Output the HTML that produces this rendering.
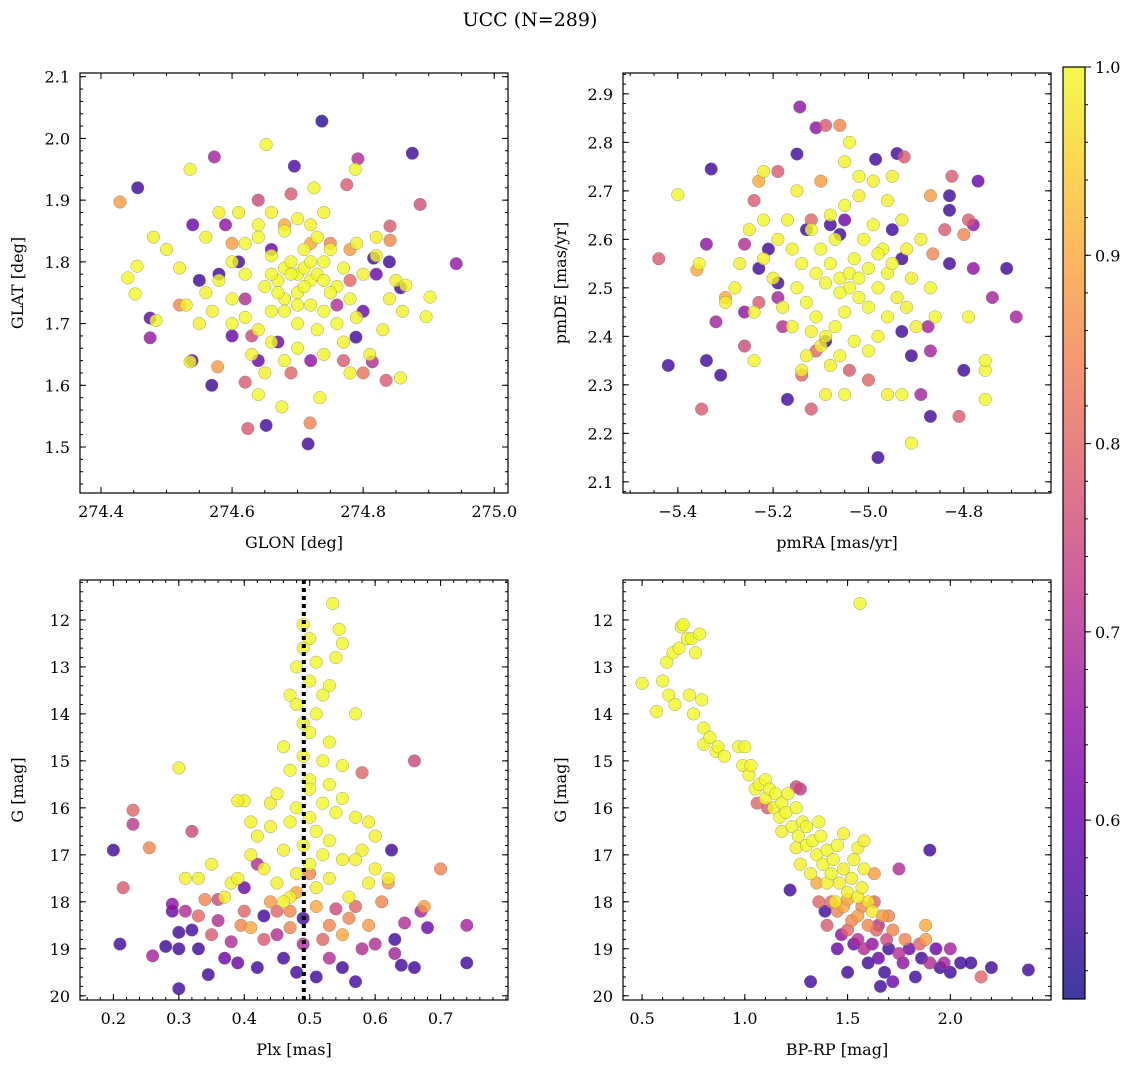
<!DOCTYPE html>
<html><head><meta charset="utf-8">
<style>
html,body{margin:0;padding:0;background:#fff;}
svg{display:block;font-family:"DejaVu Serif","Liberation Serif",serif;}
</style></head>
<body>
<svg id="chart" width="1136" height="1067" viewBox="0 0 1136 1067">
<text x="530" y="26" text-anchor="middle" font-size="19">UCC (N=289)</text>
</svg>
<script>
// ---- data (estimated from reference) ----
const p1Stars = [
[274.737,2.028,.53],[274.875,1.976,.55],[274.792,1.967,.7],[274.652,1.99,1],[274.456,1.92,.55],[274.573,1.97,.68],[274.536,1.95,1],[274.695,1.955,.56],[274.725,1.92,1],[274.775,1.925,.78],[274.788,1.95,1],[274.429,1.897,.88],[274.887,1.893,.76],[274.942,1.797,.66],[274.441,1.774,1],[274.455,1.793,1],[274.452,1.748,1],[274.475,1.709,.58],[274.475,1.677,.66],[274.484,1.705,1],[274.536,1.638,1],[274.539,1.64,.58],[274.569,1.60,.55],[274.578,1.63,.88],[274.62,1.605,.78],[274.624,1.53,.78],[274.652,1.535,.55],[274.716,1.505,.55],[274.719,1.539,.85],[274.734,1.58,1],[274.676,1.565,1],[274.64,1.585,1],[274.857,1.612,1],[274.835,1.608,.78],[274.814,1.638,.7],[274.789,1.678,.55],[274.902,1.743,1],[274.896,1.711,1],[274.857,1.758,.55],[274.865,1.762,1],[274.841,1.835,.85],[274.841,1.858,.78],[274.816,1.806,.55],
[274.64,1.90,.75],[274.60,1.83,.88],[274.68,1.86,.9],[274.75,1.83,.85],[274.78,1.82,.88],[274.66,1.82,.6],[274.62,1.74,.7],[274.58,1.78,.55],[274.54,1.86,.6],[274.55,1.77,.55],[274.52,1.73,.85],[274.60,1.68,.6],[274.63,1.68,.75],[274.67,1.67,.6],[274.64,1.64,.6],[274.69,1.62,.8],[274.72,1.64,.65],[274.77,1.64,.78],[274.80,1.72,.6],[274.82,1.78,.6],[274.84,1.80,.55],[274.76,1.73,.7],[274.78,1.77,.8],[274.61,1.80,.55],[274.59,1.86,.65],[274.69,1.91,.78],[274.72,1.83,.9],[274.80,1.62,.82],
[274.62,1.83,1],[274.64,1.86,1],[274.66,1.81,1],[274.68,1.79,1],[274.70,1.78,1],[274.72,1.77,1],[274.74,1.80,1],[274.76,1.76,1],[274.70,1.75,1],[274.68,1.74,1],[274.66,1.72,1],[274.72,1.73,1],[274.74,1.72,1],[274.78,1.74,1],[274.80,1.78,.99],[274.82,1.81,.99],[274.58,1.77,1],[274.56,1.75,.99],[274.60,1.74,1],[274.62,1.71,1],[274.64,1.69,.99],[274.66,1.67,1],[274.70,1.70,1],[274.73,1.69,1],[274.76,1.70,1],[274.79,1.71,.99],[274.60,1.80,1],[274.62,1.78,1],[274.65,1.76,1],[274.67,1.77,1],[274.69,1.80,1],[274.71,1.82,1],[274.73,1.84,1],[274.75,1.82,1],[274.77,1.79,1],[274.79,1.83,.99],[274.64,1.84,1],[274.66,1.88,.99],[274.68,1.85,1],[274.70,1.87,1],[274.72,1.86,.99],[274.74,1.88,.99],[274.63,1.65,.99],[274.65,1.62,.99],[274.68,1.64,1],[274.70,1.66,1],[274.74,1.65,.99],[274.77,1.67,.99],[274.60,1.70,1],[274.57,1.72,.99],[274.55,1.70,.99],[274.52,1.79,.99],[274.50,1.82,.99],[274.48,1.84,.99],[274.53,1.73,.99],[274.85,1.77,.99],[274.84,1.74,.99],[274.86,1.72,.99],[274.83,1.69,.99],[274.81,1.65,.99],[274.78,1.62,.99],[274.82,1.84,.99],[274.56,1.84,.99],[274.58,1.88,.99],[274.61,1.88,.99],[274.71,1.76,1],[274.69,1.78,1],[274.73,1.78,1],[274.71,1.79,1],[274.67,1.75,1],[274.75,1.75,1],[274.70,1.73,1],[274.72,1.80,1],[274.68,1.72,1],[274.66,1.78,1],[274.74,1.77,1]
];
const p2Stars = [
[-5.144,2.873,.65],[-5.40,2.692,1],[-5.44,2.56,.78],[-5.42,2.34,.55],[-5.33,2.745,.55],[-5.34,2.59,.65],[-5.355,2.55,1],[-5.36,2.537,.9],[-5.34,2.35,.55],[-5.31,2.32,.55],[-5.35,2.25,.78],[-5.32,2.43,.68],[-5.30,2.48,.9],[-5.15,2.776,.55],[-5.11,2.83,.65],[-5.09,2.835,.78],[-5.06,2.835,.85],[-5.04,2.80,1],[-4.985,2.765,.55],[-4.94,2.777,.55],[-4.925,2.77,.78],[-4.98,2.15,.55],[-4.91,2.18,1],[-4.89,2.28,.68],[-4.93,2.28,1],[-5.0,2.31,.8],[-4.87,2.37,.68],[-4.93,2.41,.55],[-4.875,2.42,.68],[-4.86,2.44,1],[-4.87,2.5,1],[-4.865,2.57,.85],[-4.83,2.55,.55],[-4.84,2.62,.78],[-4.83,2.66,.55],[-4.83,2.69,.55],[-4.825,2.73,.78],[-4.87,2.69,.88],[-4.80,2.61,.85],[-4.79,2.64,.78],[-4.77,2.72,.6],[-4.78,2.63,.65],[-4.78,2.54,.65],[-4.74,2.48,.68],[-4.71,2.54,.55],[-4.69,2.44,.68],[-4.79,2.44,1],[-4.80,2.33,.55],[-4.755,2.27,1],[-4.755,2.33,1],[-4.755,2.35,1],[-4.81,2.235,.78],[-4.87,2.235,.55],[-5.13,2.62,.55],[-5.19,2.51,.55],[-5.19,2.48,.68],[-5.14,2.32,.8],[-5.17,2.27,.55],[-5.12,2.25,.78],[-5.09,2.39,.55],[-5.11,2.37,.8],[-5.23,2.47,.78],[-5.18,2.42,.7],[-5.23,2.54,.55],[-5.22,2.64,1],[-5.21,2.58,.55],[-5.24,2.68,.78],[-5.19,2.74,.78],[-5.23,2.72,.9],[-5.26,2.59,.7],[-5.10,2.72,.88],[-5.12,2.64,.8],[-5.08,2.63,.55],[-5.05,2.64,.6],[-5.06,2.61,.55],[-4.95,2.62,.55],[-4.93,2.56,.55],[-4.91,2.36,.55],[-5.02,2.73,1],[-5.04,2.33,.78],[-5.05,2.28,1],[-5.26,2.38,.75],[-5.26,2.45,.65],[-5.24,2.35,1],
[-5.12,2.62,1],[-5.10,2.58,1],[-5.08,2.55,1],[-5.06,2.52,1],[-5.04,2.50,1],[-5.02,2.48,1],[-5.00,2.46,1],[-4.98,2.50,1],[-4.96,2.53,1],[-5.05,2.45,1],[-5.07,2.42,1],[-5.09,2.40,1],[-5.11,2.44,1],[-5.13,2.47,1],[-5.15,2.50,1],[-5.14,2.55,1],[-5.16,2.58,.99],[-5.03,2.56,1],[-5.01,2.60,1],[-4.99,2.63,1],[-4.97,2.58,1],[-4.95,2.55,1],[-4.94,2.48,.99],[-4.96,2.44,1],[-4.98,2.40,1],[-5.00,2.37,1],[-5.03,2.39,1],[-5.06,2.36,1],[-5.08,2.34,.99],[-5.10,2.38,.99],[-5.12,2.41,.99],[-5.18,2.46,.99],[-5.20,2.52,.99],[-5.22,2.56,.99],[-5.19,2.60,.99],[-5.17,2.64,.99],[-5.08,2.65,1],[-5.05,2.67,1],[-5.02,2.69,.99],[-4.99,2.72,.99],[-4.96,2.68,.99],[-4.93,2.64,.99],[-4.92,2.58,.99],[-4.91,2.52,.99],[-4.92,2.46,.99],[-5.04,2.53,1],[-5.06,2.49,1],[-5.09,2.51,1],[-5.11,2.53,1],[-5.02,2.52,1],[-5.00,2.54,1],[-4.98,2.57,1],[-5.07,2.60,1],[-5.13,2.36,.99],[-5.16,2.42,.99],[-5.25,2.62,.99],[-5.28,2.50,.99],[-5.30,2.47,.99],[-5.24,2.45,.99],[-5.27,2.55,.99],[-5.22,2.74,.99],[-5.15,2.70,.99],[-5.05,2.76,.99],[-4.95,2.73,.99],[-5.09,2.28,.99],[-4.96,2.28,.99],[-5.14,2.33,.99],[-4.89,2.60,.99],[-4.90,2.42,.99]
];
const p3Stars = [
[0.20,16.9,.55],[0.21,18.9,.55],[0.215,17.7,.78],[0.23,16.05,.8],[0.23,16.35,.72],[0.255,16.85,.85],[0.26,19.15,.68],[0.28,18.95,.55],[0.29,18.2,.6],[0.29,18.05,.65],[0.30,19.85,.55],[0.30,18.65,.55],[0.30,19.0,.55],[0.31,18.2,.7],[0.32,16.5,.75],[0.32,18.6,.55],[0.33,19.0,.55],[0.33,18.3,.8],[0.34,17.95,.85],[0.345,19.55,.55],[0.35,18.7,.78],[0.36,18.4,.7],[0.36,17.95,.75],[0.37,19.2,.6],[0.38,18.85,.7],[0.39,19.3,.6],[0.395,18.5,.85],[0.40,17.7,.6],[0.40,18.2,.8],[0.41,18.55,.9],[0.42,17.2,.7],[0.42,19.4,.55],[0.43,18.8,.78],[0.43,18.3,.55],[0.44,18.0,.88],[0.45,18.7,.7],[0.46,19.2,.55],[0.47,18.2,.85],[0.48,17.8,.9],[0.48,19.5,.55],[0.49,18.35,.55],[0.49,18.9,.7],[0.5,17.4,.85],[0.51,19.6,.55],[0.51,18.1,.9],[0.52,18.8,.8],[0.53,19.2,.7],[0.53,18.5,.85],[0.54,18.15,.75],[0.55,19.4,.55],[0.55,18.7,.9],[0.56,18.35,.85],[0.57,19.7,.55],[0.57,18.1,.8],[0.58,19.0,.7],[0.58,15.25,.8],[0.59,18.5,.88],[0.6,18.9,.7],[0.62,17.6,.88],[0.625,16.9,.55],[0.63,19.1,.68],[0.63,18.8,.55],[0.64,19.35,.55],[0.645,18.45,.7],[0.66,19.4,.55],[0.66,15.0,.75],[0.67,18.2,.68],[0.675,18.1,.88],[0.68,18.55,.6],[0.70,17.3,.85],[0.74,18.5,.68],[0.74,19.3,.55],[0.61,18.0,.85],[0.47,18.55,.85],[0.45,18.2,.8],
[0.535,11.65,1],[0.545,12.2,1],[0.49,12.1,1],[0.5,12.4,1],[0.49,12.6,1],[0.51,12.9,1],[0.55,12.5,1],[0.54,12.8,1],[0.48,13.0,1],[0.5,13.3,1],[0.53,13.4,1],[0.52,13.6,1],[0.47,13.6,1],[0.48,13.8,1],[0.51,14.0,1],[0.49,14.2,1],[0.57,14.0,1],[0.5,14.4,1],[0.53,14.6,1],[0.46,14.7,1],[0.49,14.9,1],[0.52,15.0,1],[0.55,15.1,1],[0.47,15.2,1],[0.5,15.4,1],[0.53,15.5,1],[0.5,15.6,1],[0.45,15.7,1],[0.55,15.8,1],[0.52,15.9,1],[0.48,16.0,1],[0.5,16.2,1],[0.54,16.1,1],[0.57,16.2,.99],[0.47,16.3,1],[0.51,16.5,1],[0.53,16.7,1],[0.49,16.8,1],[0.46,16.9,.99],[0.52,17.0,1],[0.55,17.1,.99],[0.5,17.2,1],[0.48,17.4,.99],[0.53,17.5,.99],[0.51,17.7,.99],[0.45,17.6,.99],[0.44,16.4,.99],[0.4,15.85,.99],[0.39,15.85,.99],[0.41,16.3,.99],[0.42,16.6,.99],[0.44,15.9,.99],[0.41,17.0,.99],[0.43,17.3,.99],[0.38,17.6,.99],[0.37,17.9,.99],[0.39,17.5,.99],[0.35,17.2,.99],[0.33,17.5,.99],[0.31,17.5,.99],[0.30,15.15,.99],[0.59,16.3,.99],[0.6,16.6,.99],[0.58,16.9,.99],[0.57,17.1,.99],[0.59,17.6,.99],[0.6,17.3,.99],[0.56,17.9,.99],[0.62,17.5,.99],[0.47,17.9,.99],[0.46,18.0,.99]
];
const p4Stars = [
[1.06,15.9,.8],[1.11,16.0,.78],[1.25,15.55,.75],[1.27,15.6,.72],[1.22,17.75,.55],[1.32,19.7,.55],[1.39,18.2,.55],[1.4,18.5,.78],[1.42,18.0,.8],[1.45,18.2,.85],[1.48,18.1,.9],[1.5,18.6,.8],[1.5,19.5,.55],[1.52,18.4,.85],[1.55,18.8,.7],[1.55,18.3,.88],[1.57,18.1,.85],[1.58,19.0,.7],[1.6,18.5,.85],[1.6,19.3,.55],[1.62,18.9,.65],[1.63,17.4,.88],[1.64,18.6,.8],[1.65,19.2,.6],[1.66,19.8,.55],[1.67,18.3,.88],[1.68,19.5,.55],[1.69,18.8,.75],[1.7,19.0,.55],[1.72,18.6,.85],[1.72,19.7,.6],[1.75,19.1,.7],[1.77,19.3,.65],[1.78,18.8,.85],[1.8,19.0,.6],[1.83,19.6,.55],[1.85,18.9,.8],[1.86,19.2,.55],[1.88,18.8,.88],[1.88,18.5,.9],[1.9,16.9,.55],[1.9,19.3,.7],[1.93,19.0,.6],[1.95,19.4,.55],[1.97,19.3,.68],[2.0,19.0,.68],[2.0,19.5,.55],[2.05,19.3,.55],[2.1,19.3,.55],[2.15,19.6,.8],[2.2,19.4,.55],[2.38,19.45,.55],[1.75,17.3,.7],[1.47,18.7,.65],[1.53,18.9,.6],[1.45,19.0,.6],[1.63,18.0,.8],[1.7,18.3,.85],[1.36,18.0,.8],[1.35,17.6,.9],[1.65,18.5,.7],[1.5,17.95,.9],
[0.5,13.35,1],[0.57,13.95,1],[0.6,13.3,1],[0.62,12.9,1],[0.63,13.6,1],[0.65,12.7,1],[0.66,13.8,1],[0.68,12.6,1],[0.69,12.15,1],[0.70,12.1,1],[0.72,12.4,1],[0.73,13.6,1],[0.74,12.4,1],[0.75,14.0,1],[0.76,12.7,1],[0.78,12.3,1],[0.79,13.7,1],[0.8,14.3,1],[0.8,14.65,1],[0.83,14.5,1],[0.86,14.8,1],[0.87,14.7,1],[0.9,14.9,1],[0.97,14.7,1],[0.99,15.1,1],[1.0,14.7,1],[1.02,15.3,1],[1.03,15.1,1],[1.05,15.6,1],[1.07,15.5,1],[1.1,15.4,1],[1.1,15.8,1],[1.12,15.6,1],[1.14,16.0,1],[1.15,15.7,1],[1.17,16.2,1],[1.18,15.9,1],[1.2,16.1,1],[1.21,15.7,1],[1.23,16.4,1],[1.25,16.0,1],[1.26,16.6,1],[1.28,16.3,1],[1.3,16.8,1],[1.3,16.4,1],[1.33,16.7,1],[1.35,17.0,1],[1.37,16.6,1],[1.38,17.2,1],[1.4,16.9,1],[1.42,17.4,1],[1.43,17.1,1],[1.45,16.8,1],[1.46,17.6,.99],[1.48,17.3,.99],[1.5,17.8,.99],[1.52,17.5,.99],[1.53,17.1,.99],[1.55,17.9,.99],[1.56,11.65,1],[1.57,17.7,.99],[1.58,17.3,.99],[1.6,18.0,.98],[1.62,18.2,.98],[1.36,16.3,1],[1.32,17.4,.99],[1.4,17.6,.99],[1.44,18.0,.98],[1.25,16.85,.99],[1.27,17.2,.99],[1.18,16.5,.99],[1.55,16.85,.99],[1.48,16.55,.99],[1.58,16.7,.99]
];
const p1XTicks=[274.4,274.6,274.8,275.0], p1YTicks=[1.5,1.6,1.7,1.8,1.9,2.0,2.1];
const p2XTicks=[-5.4,-5.2,-5.0,-4.8], p2YTicks=[2.1,2.2,2.3,2.4,2.5,2.6,2.7,2.8,2.9];
const gTicks=[12,13,14,15,16,17,18,19,20];
const p3XTicks=[0.2,0.3,0.4,0.5,0.6,0.7], p4XTicks=[0.5,1.0,1.5,2.0];
const cbTicks=[0.6,0.7,0.8,0.9,1.0];
const plxMedian = 0.491;

const NS="http://www.w3.org/2000/svg";
const svg=document.getElementById('chart');
function el(tag,attrs,parent){const e=document.createElementNS(NS,tag);for(const k in attrs)e.setAttribute(k,attrs[k]);(parent||svg).appendChild(e);return e;}
const stops=[[13,8,135],[65,4,157],[106,0,168],[143,13,164],[177,42,144],[204,71,120],[225,100,98],[242,132,75],[252,166,54],[252,206,37],[240,249,33]];
const VMIN=0.505,VMAX=1.0;
function cmap(p){let t=(p-VMIN)/(VMAX-VMIN);t=Math.max(0,Math.min(1,t))*10;const i=Math.min(9,Math.floor(t)),f=t-i;const a=stops[i],b=stops[i+1];return `rgb(${Math.round(a[0]+(b[0]-a[0])*f)},${Math.round(a[1]+(b[1]-a[1])*f)},${Math.round(a[2]+(b[2]-a[2])*f)})`;}
function fmt(v,d){return (v<0?'\u2212':'')+Math.abs(v).toFixed(d);}

function panel(o){
  const g=el('g',{});
  
  
  const sx=v=>o.x0+(v-o.xmin)/(o.xmax-o.xmin)*(o.x1-o.x0);
  const sy=v=>o.inv? o.y0+(v-o.ymin)/(o.ymax-o.ymin)*(o.y1-o.y0) : o.y1-(v-o.ymin)/(o.ymax-o.ymin)*(o.y1-o.y0);
  const pts=o.data.slice().sort((a,b)=>a[2]-b[2]);
  pts.forEach(d=>{
    const c=el('circle',{cx:sx(d[0]),cy:sy(d[1]),r:6.3,fill:cmap(d[2]),'fill-opacity':0.8,stroke:'#777','stroke-width':0.5,'stroke-opacity':0.7},g);
    
    
  });
  if(o.vline!==undefined){
    const l=el('line',{x1:sx(o.vline),x2:sx(o.vline),y1:o.y0,y2:o.y1,stroke:'#000','stroke-width':4,'stroke-dasharray':'4,4'},g);
    
    
  }
  const fr=el('rect',{x:o.x0,y:o.y0,width:o.x1-o.x0,height:o.y1-o.y0,fill:'none',stroke:'#000','stroke-width':1.2},g);
  
  
  for(let v=Math.ceil(o.xmin/o.xminor)*o.xminor; v<=o.xmax; v+=o.xminor){const x=sx(v);
    el('line',{x1:x,x2:x,y1:o.y1,y2:o.y1-3,stroke:'#000'},g);el('line',{x1:x,x2:x,y1:o.y0,y2:o.y0+3,stroke:'#000'},g);}
  for(let v=Math.ceil(o.ymin/o.yminor)*o.yminor; v<=o.ymax; v+=o.yminor){const y=sy(v);
    el('line',{x1:o.x0,x2:o.x0+3,y1:y,y2:y,stroke:'#000'},g);el('line',{x1:o.x1,x2:o.x1-3,y1:y,y2:y,stroke:'#000'},g);}
  o.xt.forEach(v=>{const x=sx(v);
    el('line',{x1:x,x2:x,y1:o.y1,y2:o.y1-6,stroke:'#000'},g);el('line',{x1:x,x2:x,y1:o.y0,y2:o.y0+6,stroke:'#000'},g);
    const t=el('text',{x:x,y:o.y1+24,'text-anchor':'middle','font-size':16},g);t.textContent=fmt(v,o.xd);
    
    });
  o.yt.forEach(v=>{const y=sy(v);
    el('line',{x1:o.x0,x2:o.x0+6,y1:y,y2:y,stroke:'#000'},g);el('line',{x1:o.x1,x2:o.x1-6,y1:y,y2:y,stroke:'#000'},g);
    const t=el('text',{x:o.x0-10,y:y+6,'text-anchor':'end','font-size':16},g);t.textContent=fmt(v,o.yd);
    
    });
  const xl=el('text',{x:(o.x0+o.x1)/2,y:o.y1+55,'text-anchor':'middle','font-size':16},g);xl.textContent=o.xlabel;
  
  
  const yx=o.x0-57, yy=(o.y0+o.y1)/2;
  const yl=el('text',{x:yx,y:yy,'text-anchor':'middle','font-size':16,transform:`rotate(-90 ${yx} ${yy})`},g);yl.textContent=o.ylabel;
  
  
}
panel({name:'glon-glat-panel',data:p1Stars,x0:80,x1:508,y0:73,y1:493,xmin:274.368,xmax:275.021,ymin:1.4255,ymax:2.106,xt:p1XTicks,yt:p1YTicks,xd:1,yd:1,xminor:0.05,yminor:0.02,xlabel:'GLON [deg]',ylabel:'GLAT [deg]'});
panel({name:'pm-panel',data:p2Stars,x0:623,x1:1051,y0:73,y1:493,xmin:-5.515,xmax:-4.617,ymin:2.077,ymax:2.943,xt:p2XTicks,yt:p2YTicks,xd:1,yd:1,xminor:0.05,yminor:0.02,xlabel:'pmRA [mas/yr]',ylabel:'pmDE [mas/yr]'});
panel({name:'plx-g-panel',data:p3Stars,x0:80,x1:508,y0:580,y1:1000,xmin:0.149,xmax:0.803,ymin:11.15,ymax:20.09,inv:true,xt:p3XTicks,yt:gTicks,xd:1,yd:0,xminor:0.02,yminor:0.2,xlabel:'Plx [mas]',ylabel:'G [mag]',vline:plxMedian});
panel({name:'cmd-panel',data:p4Stars,x0:623,x1:1051,y0:580,y1:1000,xmin:0.407,xmax:2.49,ymin:11.15,ymax:20.09,inv:true,xt:p4XTicks,yt:gTicks,xd:1,yd:0,xminor:0.1,yminor:0.2,xlabel:'BP-RP [mag]',ylabel:'G [mag]'});

const cb=el('g',{});


const defs=el('defs',{},cb);
const lg=el('linearGradient',{id:'cbg',x1:0,y1:1,x2:0,y2:0},defs);
for(let i=0;i<=20;i++){const p=VMIN+(VMAX-VMIN)*i/20;el('stop',{offset:i/20,'stop-color':cmap(p),'stop-opacity':0.8},lg);}
const CB={x0:1063,x1:1085,y0:67,y1:999};
const cy=v=>CB.y1-(v-VMIN)/(VMAX-VMIN)*(CB.y1-CB.y0);
el('rect',{x:CB.x0,y:CB.y0,width:CB.x1-CB.x0,height:CB.y1-CB.y0,fill:'url(#cbg)',stroke:'#000','stroke-width':1.2},cb);
for(let v=0.52;v<=1.0001;v+=0.02){el('line',{x1:CB.x1,x2:CB.x1+3,y1:cy(v),y2:cy(v),stroke:'#000'},cb);}
cbTicks.forEach(v=>{el('line',{x1:CB.x1,x2:CB.x1+6,y1:cy(v),y2:cy(v),stroke:'#000'},cb);
  const t=el('text',{x:CB.x1+10,y:cy(v)+6,'font-size':16},cb);t.textContent=v.toFixed(1);
  
  });
</script>
</body></html>
